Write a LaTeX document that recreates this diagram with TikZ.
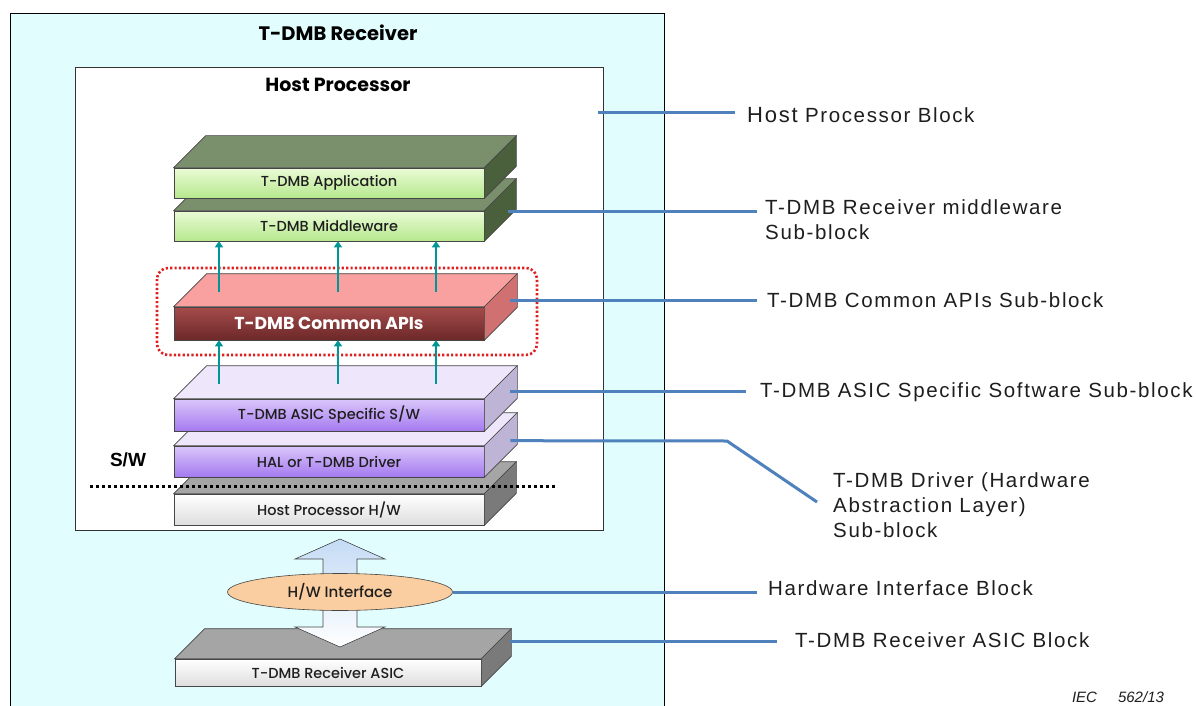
\documentclass[tikz,border=0pt]{standalone}
\usepackage{fontspec}
\setmainfont{Poppins}
\newfontfamily\slabf{Poppins Medium}
\newfontfamily\arialf{Liberation Sans}
\newfontfamily\arialsp[LetterSpace=8]{Liberation Sans}
\usetikzlibrary{calc,arrows.meta,shapes.geometric}
\definecolor{cyanbg}{RGB}{225,253,253}
\definecolor{edgec}{RGB}{70,70,70}
\definecolor{leadc}{RGB}{79,129,189}
\definecolor{tealc}{RGB}{0,150,150}
\definecolor{gtop}{RGB}{122,143,108}
\definecolor{gside}{RGB}{74,96,60}
\definecolor{gf1}{RGB}{234,251,214}
\definecolor{gf2}{RGB}{182,232,142}
\definecolor{rtop}{RGB}{249,160,160}
\definecolor{rside}{RGB}{208,112,112}
\definecolor{rf1}{RGB}{165,75,75}
\definecolor{rf2}{RGB}{108,40,40}
\definecolor{ptop}{RGB}{238,231,252}
\definecolor{pside}{RGB}{190,181,214}
\definecolor{pf1}{RGB}{218,198,250}
\definecolor{pf2}{RGB}{165,122,240}
\definecolor{htop}{RGB}{165,165,165}
\definecolor{hside}{RGB}{122,122,122}
\definecolor{hf1}{RGB}{255,255,255}
\definecolor{hf2}{RGB}{222,222,222}
\definecolor{ellc}{RGB}{250,206,160}
\definecolor{arrb}{RGB}{196,219,245}
\definecolor{labc}{RGB}{30,30,30}
\definecolor{dotred}{RGB}{225,30,30}
\newcommand\slabfaces[4]{% name, depth, topcolor, sidecolor
  \filldraw[fill=#3, draw=edgec, line width=0.6pt] (#1.north west) -- ++(#2,-#2) -- ($(#1.north east)+(#2,-#2)$) -- (#1.north east) -- cycle;
  \filldraw[fill=#4, draw=edgec, line width=0.6pt] (#1.north east) -- ++(#2,-#2) -- ($(#1.south east)+(#2,-#2)$) -- (#1.south east) -- cycle;
}
\tikzset{
  slabfront/.style={draw=edgec, line width=0.6pt, minimum width=310pt, inner sep=0pt, font=\slabf\fontsize{14.5}{16}\selectfont, text=labc},
  leader/.style={draw=leadc, line width=3pt},
  rlabel/.style={anchor=west, inner sep=0pt, font=\arialsp\fontsize{20.5}{25}\selectfont, text=labc, align=left},
  tealarr/.style={draw=tealc, line width=2.4pt, -{Triangle[length=6pt,width=8pt]}},
}
\begin{document}
\begin{tikzpicture}[x=1pt,y=-1pt]
\useasboundingbox (0,0) rectangle (1196,706);
\fill[white] (0,0) rectangle (1196,706);
% outer receiver box
\node[draw=black, line width=0.8pt, fill=cyanbg, minimum width=654pt, minimum height=700pt, inner sep=0pt, anchor=north west] (rx) at (10,13) {};
\node[font=\bfseries\fontsize{19.5}{21}\selectfont] (rxt) at (338,33) {T-DMB Receiver};
% host processor box
\node[draw=black!80, line width=0.6pt, fill=white, minimum width=528pt, minimum height=463pt, inner sep=0pt, anchor=north west] (hp) at (75,67) {};
\node[font=\bfseries\fontsize{19}{21}\selectfont] (hpt) at (338,85) {Host Processor};

% Host processor H/W slab
\node[slabfront, minimum height=31pt, top color=hf1, bottom color=hf2] (hw) at (329,509.5) {Host Processor H/W};
\slabfaces{hw}{32}{htop}{hside}
% HAL slab
\node[slabfront, minimum height=31pt, top color=pf1, bottom color=pf2] (hal) at (329,461.5) {HAL or T-DMB Driver};
\slabfaces{hal}{33}{ptop}{pside}
% ASIC specific slab
\node[slabfront, minimum height=32pt, top color=pf1, bottom color=pf2] (asw) at (329,415) {T-DMB ASIC Specific S/W};
\slabfaces{asw}{33}{ptop}{pside}
% Common APIs slab
\node[slabfront, minimum height=33pt, top color=rf1, bottom color=rf2, text=white, font=\bfseries\fontsize{17.3}{19}\selectfont] (api) at (329,323.5) {T-DMB Common APIs};
\slabfaces{api}{33}{rtop}{rside}
% Middleware slab
\node[slabfront, minimum height=30pt, top color=gf1, bottom color=gf2] (mw) at (329,226) {T-DMB Middleware};
\slabfaces{mw}{32}{gtop}{gside}
% Application slab
\node[slabfront, minimum height=30pt, top color=gf1, bottom color=gf2] (app) at (329,183) {T-DMB Application};
\slabfaces{app}{32}{gtop}{gside}

% dotted red group box
\draw[dotred, line width=2.6pt, dash pattern=on 2.2pt off 2.2pt, rounded corners=11pt] (157,268) rectangle (537,355);

% teal arrows
\coordinate (a1) at (219,292); \coordinate (a2) at (338,292); \coordinate (a3) at (436,292);
\coordinate (b1) at (219,384); \coordinate (b2) at (338,384); \coordinate (b3) at (436,384);
\draw[tealarr] (a1) -- (a1 |- mw.south);
\draw[tealarr] (a2) -- (a2 |- mw.south);
\draw[tealarr] (a3) -- (a3 |- mw.south);
\draw[tealarr] (b1) -- (b1 |- api.south);
\draw[tealarr] (b2) -- (b2 |- api.south);
\draw[tealarr] (b3) -- (b3 |- api.south);

% S/W divider
\draw[black, line width=3pt, dash pattern=on 3pt off 3pt] (90,486) -- (555,486);
\node[font=\arialf\bfseries\fontsize{19}{20}\selectfont] (sw) at (128,460) {S/W};

% Receiver ASIC slab
\node[slabfront, minimum width=306pt, minimum height=27pt, top color=hf1, bottom color=hf2] (asic) at (328,672.5) {T-DMB Receiver ASIC};
\slabfaces{asic}{30}{htop}{hside}

% H/W interface double arrow
\shade[top color=arrb, bottom color=white, draw=edgec, line width=0.6pt]
  (340,539) -- (385,559) -- (357,559) -- (357,627) -- (385,627) -- (340,647) -- (295,627) -- (323,627) -- (323,559) -- (295,559) -- cycle;
\node[ellipse, draw=edgec, line width=0.6pt, fill=ellc, minimum width=225pt, minimum height=37pt, inner sep=0pt, font=\slabf\fontsize{15}{17}\selectfont, text=labc] (hwi) at (340,592) {H/W Interface};

% right labels
\node[rlabel] (L1) at (747,115) {{\fontsize{22}{25}\selectfont Host} Processor Block};
\node[rlabel, align=left] (L2) at (765,220) {T-DMB Receiver middleware\\Sub-block};
\node[rlabel] (L3) at (767,300) {T-DMB Common APIs Sub-block};
\node[rlabel] (L4) at (760,392) {T-DMB ASIC Specific Software Sub-block};
\node[rlabel, align=left] (L5) at (833,505) {T-DMB Driver (Hardware\\Abstraction Layer)\\Sub-block};
\node[rlabel] (L6) at (768,588) {Hardware Interface Block};
\node[rlabel] (L7) at (795,640) {T-DMB Receiver ASIC Block};

% leader lines
\coordinate (s1) at (598,113);
\coordinate (s2) at ($(mw.north east)+(0,1)$);
\coordinate (s3) at ($(api.north east)+(26,-6)$);
\coordinate (s4) at ($(asw.north east)+(26,-7)$);
\coordinate (s5) at ($(hal.north east)+(26,-5)$);
\coordinate (k5) at (727,441);
\coordinate (e5) at (817,502);
\coordinate (s7) at ($(asic.north east)+(29,-17)$);
\draw[leader] (s1) -- (735,113) coordinate (e1);
\draw[leader] (s2 -| 508,0) -- ([xshift=-8pt]L2.west |- s2);
\draw[leader] (s3) -- ([xshift=-10pt]L3.west |- s3);
\draw[leader] (s4) -- ([xshift=-14pt]L4.west |- s4);
\draw[leader] (s5) -- (k5) -- (e5);
\draw[leader] (hwi.east) -- ([xshift=-11pt]L6.west |- hwi.east);
\draw[leader] (s7) -- ([xshift=-18pt]L7.west |- s7);

\node[font=\arialf\itshape\fontsize{15}{17}\selectfont, text=labc] (iec) at (1118,697) {IEC\hspace{1.4em}562/13};
\end{tikzpicture}
\end{document}
